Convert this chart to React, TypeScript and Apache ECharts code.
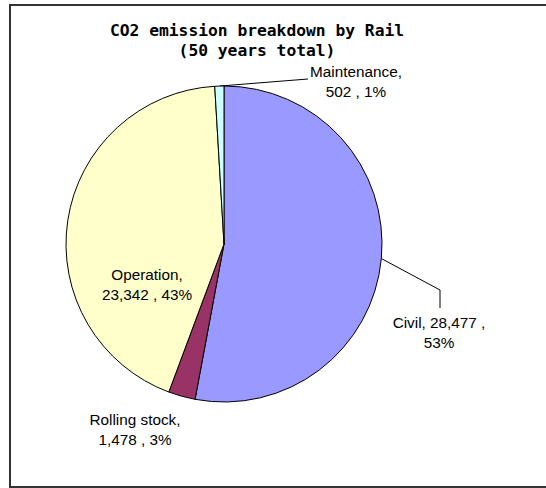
import React, { useEffect, useRef } from 'react';
import * as echarts from 'echarts';

const categories = ['Civil', 'Rolling stock', 'Operation', 'Maintenance'];
const values = [28477, 1478, 23342, 502];
const sliceColors = ['#9999FF', '#993366', '#FFFFCC', '#CCFFFF'];
const titleLines = ['CO2 emission breakdown by Rail', '(50 years total)'];

const fmt = (n: number) => String(n).replace(/\B(?=(\d{3})+(?!\d))/g, ',');

export default function App() {
  const ref = useRef<HTMLDivElement>(null);
  useEffect(() => {
    const chart = echarts.init(ref.current!, null, { renderer: 'svg' });
    const cx = 224, cy = 244, r = 158;
    const total = values.reduce((a, b) => a + b, 0);
    const labelPos = [
      { x: 439, y: 332 },
      { x: 135, y: 429 },
      { x: 147, y: 284 },
      { x: 356, y: 81 },
    ];
    const linePts: (number[][] | null)[] = [
      [[440, 290], [440, 308]],
      null,
      null,
      [[308, 79], [308, 79]],
    ];
    const edgePoint = (i: number) => {
      let cum = 0;
      for (let k = 0; k < i; k++) cum += values[k];
      const a = ((cum + values[i] / 2) / total) * Math.PI * 2;
      return [cx + r * Math.sin(a), cy - r * Math.cos(a)];
    };
    const font = '"Liberation Sans", Arial, sans-serif';
    chart.setOption({
      animation: false,
      title: {
        text: titleLines.join('\n'),
        left: 252,
        top: 15,
        textAlign: 'center',
        textStyle: {
          fontFamily: '"DejaVu Sans Mono", "Liberation Mono", monospace',
          fontWeight: 'bold',
          fontSize: 16.3,
          lineHeight: 20,
          color: '#000',
        },
      },
      graphic: [
        {
          type: 'rect',
          silent: true,
          z: -1,
          shape: { x: 10, y: 5, width: 600, height: 482 },
          style: { fill: 'none', stroke: '#333', lineWidth: 2 },
        },
      ],
      series: [
        {
          type: 'pie',
          center: [cx, cy],
          radius: r,
          startAngle: 90,
          clockwise: true,
          avoidLabelOverlap: false,
          itemStyle: { borderColor: '#000', borderWidth: 1 },
          label: {
            show: true,
            position: 'outside',
            fontFamily: font,
            fontSize: 15.3,
            lineHeight: 20,
            color: '#000',
            align: 'center',
            formatter: (p: any) => {
              const v = fmt(p.value);
              const pct = Math.round(p.percent);
              return p.dataIndex === 0
                ? `${p.name}, ${v} ,\n${pct}%`
                : `${p.name},\n${v} , ${pct}%`;
            },
          },
          labelLine: { show: true, lineStyle: { color: '#000', width: 1 } },
          labelLayout: (params: any) => {
            const i = params.dataIndex;
            const res: any = {
              x: labelPos[i].x,
              y: labelPos[i].y,
              align: 'center',
              verticalAlign: 'middle',
            };
            if (linePts[i]) {
              res.labelLinePoints = [edgePoint(i), ...(linePts[i] as number[][])];
            }
            return res;
          },
          data: categories.map((name, i) => ({
            name,
            value: values[i],
            itemStyle: { color: sliceColors[i] },
            labelLine: { show: linePts[i] !== null },
          })),
        },
      ],
    });
    return () => chart.dispose();
  }, []);
  return (
    <div
      ref={ref}
      style={{ position: 'fixed', left: 0, top: 0, width: 546, height: 488, background: '#fff' }}
    />
  );
}
